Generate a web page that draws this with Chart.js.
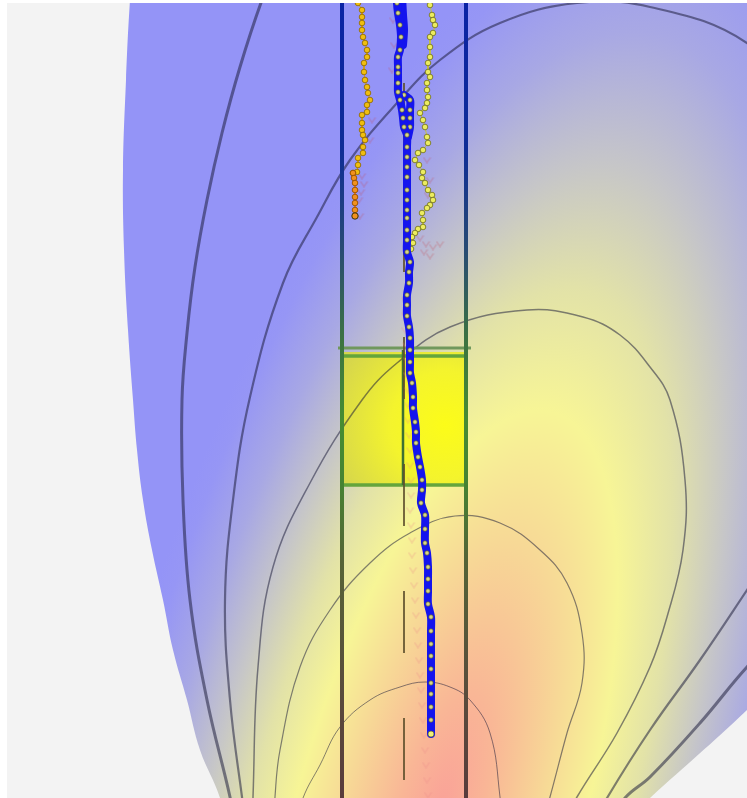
<!DOCTYPE html>
<html><head><meta charset="utf-8">
<script src="https://cdn.jsdelivr.net/npm/chart.js@4.4.1/dist/chart.umd.min.js"></script>
<style>
html,body{margin:0;padding:0;background:#ffffff;overflow:hidden;width:100%;height:100%;}
#wrap{position:fixed;left:7px;top:3px;right:0;bottom:0;background:#f3f3f3;}
#c{display:block;}
</style></head><body>
<div id="wrap"><canvas id="c"></canvas></div>
<script>
// ---------- DATA (x, y in sheet units) ----------
const heatRegion = [[232,850],[220,798],[200,750],[187,700],[173,650],[163,600],[152,550],[143,500],[137,450],[133,400],[128,330],[124,250],[123,170],[126,80],[130,0],[135,-60],[900,-60],[900,560],[747,710],[650,798],[594,850]];
const contourA = [[236,830],[230,797],[207,700],[190,600],[183,500],[182,400],[187,333],[195,267],[207,200],[222,133],[240,67],[262,0],[290,-70],[420,-170],[620,-180],[820,-80],[910,150],[900,420],[830,580],[747,667],[700,723],[650,777],[625,798],[605,830]];
const contourB = [[247,830],[242,797],[230,700],[225,600],[233,500],[250,397],[283,283],[317,217],[350,160],[397,103],[440,60],[500,23],[577,3],[650,7],[747,43],[820,120],[855,280],[835,440],[800,510],[747,590],[700,660],[650,730],[607,798],[590,830]];
const contourC = [[252,830],[253,797],[258,667],[273,567],[310,483],[362,400],[397,363],[450,327],[527,310],[583,317],[620,335],[650,367],[670,400],[685,480],[683,550],[667,617],[650,667],[617,733],[577,797],[560,830]];
const contourD = [[274,830],[275,797],[280,750],[300,667],[330,610],[370,563],[410,533],[455,516],[500,523],[540,550],[567,583],[582,633],[582,683],[567,733],[550,797],[540,830]];
const contourE = [[295,830],[303,798],[320,765],[340,727],[370,700],[400,687],[425,682],[450,687],[470,700],[490,733],[500,797],[502,830]];
const laneLeft = [[342,-10],[342,810]];
const laneRight = [[466,-10],[466,810]];
const centerLine = [[404,780],[404,-100]];
const boxArea = [[343,352],[466,352],[466,485],[343,485]];
const boxTopOuter = [[338,348],[471,348]];
const boxTopInner = [[343,356],[466,356]];
const boxBottom = [[343,485],[466,485]];
const boxDivider = [[403,350],[403,485]];
const bluePath = [[397,-5],[397,3],[398,13],[400,25],[401,37],[400,50],[398,57],[398,67],[398,73],[398,83],[398,92],[400,100],[402,110],[403,118],[404,127],[407,135],[407,147],[407,157],[407,167],[407,177],[407,190],[407,200],[407,210],[407,218],[407,230],[407,240],[407,252],[410,262],[409,272],[409,283],[407,295],[407,305],[407,316],[409,327],[410,338],[410,350],[410,362],[410,373],[412,383],[413,397],[413,408],[415,422],[416,432],[416,443],[418,457],[420,467],[422,480],[422,490],[421,503],[425,515],[425,529],[425,543],[427,553],[428,567],[428,579],[428,591],[428,604],[431,617],[431,631],[431,644],[431,656],[431,669],[431,683],[431,694],[431,707],[431,720],[431,734]];
const blueTop = [[402,-5],[403,15],[404,30],[403,45]];
const blueBranch = [[404,95],[410,100],[410,110],[410,118],[410,127],[408,137]];
const yellowPath = [[430,-5],[430,5],[432,15],[433,20],[435,25],[433,33],[430,37],[430,47],[430,57],[428,63],[428,72],[430,77],[427,83],[427,90],[428,97],[427,103],[425,108],[420,113],[423,120],[425,127],[427,137],[428,143],[423,150],[418,153],[415,160],[419,165],[423,172],[422,178],[425,183],[428,190],[432,195],[433,200],[430,205],[427,208],[422,213],[423,220],[423,227],[418,229],[415,233],[412,237],[413,243],[411,249]];
const goldPath = [[358,-5],[358,3],[362,10],[362,17],[362,23],[362,30],[363,37],[365,43],[367,50],[367,57],[364,63],[364,72],[365,80],[367,87],[368,93],[370,100],[367,105],[367,112],[362,115],[362,123],[362,130],[363,135],[365,140],[363,147],[363,153],[358,158],[358,165],[357,172],[353,173]];
const orangeTail = [[353,173],[354,178],[355,183],[355,190],[355,197],[355,203],[355,210],[355,216]];
const arrowTrail = [[405,300],[405,315],[405,330],[406,345],[407,360],[407,375],[408,390],[408,405],[408,420],[409,435],[410,450],[410,465],[411,480],[411,495],[410,510],[411,525],[412,540],[412,555],[413,570],[414,585],[415,600],[416,615],[417,630],[418,645],[419,660],[420,675],[421,690],[422,705],[423,720],[424,735],[425,750],[426,765],[427,780],[428,795]];
const redMarks = [[362,176],[364,184],[361,192],[359,200],[420,238],[426,244],[433,247],[440,244],[424,252],[430,256],[393,20],[394,45],[392,70],[427,160],[430,180],[428,195],[370,140],[372,120],[360,216]];

// ---------- STYLE SETTINGS ----------
const HEAT = { cx: 440, cy: 810, ax: 350, ay: 950, skew: 0.25 };
const HEAT_STOPS = [[0,'rgb(250,162,152)'],[0.12,'rgb(249,182,150)'],[0.28,'rgb(247,216,150)'],[0.42,'rgb(247,245,150)'],[0.55,'rgb(226,226,168)'],[0.68,'rgb(198,198,200)'],[0.82,'rgb(168,168,228)'],[0.95,'rgb(150,150,245)'],[1,'rgb(148,148,247)']];
const LANE_STOPS = [[0,'rgb(10,35,165)'],[150,'rgb(15,45,150)'],[250,'rgb(40,75,115)'],[340,'rgb(60,115,65)'],[420,'rgb(70,140,50)'],[485,'rgb(70,130,50)'],[560,'rgb(85,100,55)'],[700,'rgb(90,75,60)'],[798,'rgb(90,60,60)']];

const pts = a => a.map(([x, y]) => ({x, y}));

let heatCache = null;
function heatFill(chart) {
  const area = chart.chartArea;
  if (!area || !chart.scales.x) return 'rgb(148,148,247)';
  const key = chart.width + 'x' + chart.height;
  if (heatCache && heatCache.key === key) return heatCache.pat;
  const xs = chart.scales.x, ys = chart.scales.y;
  const off = document.createElement('canvas');
  off.width = chart.width; off.height = chart.height;
  const g = off.getContext('2d');
  const cx = xs.getPixelForValue(HEAT.cx), cy = ys.getPixelForValue(HEAT.cy);
  const ax = Math.abs(xs.getPixelForValue(HEAT.cx + HEAT.ax) - cx);
  const ay = Math.abs(ys.getPixelForValue(HEAT.cy - HEAT.ay) - cy);
  g.setTransform(ax, 0, -HEAT.skew * ay, ay, cx, cy);
  const grad = g.createRadialGradient(0, 0, 0, 0, 0, 1);
  HEAT_STOPS.forEach(([t, c]) => grad.addColorStop(t, c));
  g.fillStyle = grad;
  g.fillRect(-20, -20, 40, 40);
  const pat = chart.ctx.createPattern(off, 'no-repeat');
  heatCache = {key, pat};
  return pat;
}
function laneColor(ctx) {
  const chart = ctx.chart;
  if (!chart.chartArea || !chart.scales.y) return 'rgb(20,45,150)';
  const ys = chart.scales.y;
  const y0 = ys.getPixelForValue(0), y1 = ys.getPixelForValue(798);
  const gr = chart.ctx.createLinearGradient(0, y0, 0, y1);
  LANE_STOPS.forEach(([v, c]) => gr.addColorStop(Math.min(1, Math.max(0, v / 798)), c));
  return gr;
}
function boxColor(ctx) {
  const chart = ctx.chart;
  if (!chart.chartArea || !chart.scales.x) return 'rgb(240,240,50)';
  const xs = chart.scales.x, ys = chart.scales.y;
  const cx = xs.getPixelForValue(445), cy = ys.getPixelForValue(425);
  const r = Math.abs(xs.getPixelForValue(565) - cx);
  const gr = chart.ctx.createRadialGradient(cx, cy, 0, cx, cy, r);
  gr.addColorStop(0, 'rgb(252,252,25)');
  gr.addColorStop(0.45, 'rgb(244,244,45)');
  gr.addColorStop(1, 'rgb(212,212,78)');
  return gr;
}
function chevron(color) {
  const c = document.createElement('canvas');
  c.width = 9; c.height = 7;
  const g = c.getContext('2d');
  g.strokeStyle = color; g.lineWidth = 1.3;
  g.beginPath(); g.moveTo(1, 1); g.lineTo(4.5, 6); g.lineTo(8, 1); g.stroke();
  return c;
}

const contour = (data, w, order) => ({data: pts(data), borderColor: 'rgba(25,25,55,0.52)', borderWidth: w, tension: 0.4, pointRadius: 0, fill: false, order});
const seg = (data, color, w, order, extra) => Object.assign({data: pts(data), borderColor: color, borderWidth: w, pointRadius: 0, tension: 0, fill: false, order}, extra || {});

const datasets = [
  {data: pts(heatRegion), backgroundColor: ctx => heatFill(ctx.chart), borderWidth: 0, pointRadius: 0, tension: 0.4, fill: 'shape', order: 100},
  {data: pts(boxArea), backgroundColor: boxColor, borderWidth: 0, pointRadius: 0, tension: 0, fill: 'shape', order: 95},
  contour(contourA, 3, 90), contour(contourB, 2.2, 90), contour(contourC, 1.5, 90), contour(contourD, 1.2, 90), contour(contourE, 1, 90),
  seg(boxTopOuter, 'rgb(112,152,92)', 3, 80),
  seg(boxTopInner, 'rgb(100,165,60)', 3.5, 80),
  seg(boxBottom, 'rgb(100,165,60)', 3.5, 80),
  seg(boxDivider, 'rgb(62,112,52)', 2.5, 78),
  seg(laneLeft, laneColor, 4, 75),
  seg(laneRight, laneColor, 4, 75),
  seg(centerLine, 'rgba(95,80,45,0.85)', 2, 74, {borderDash: [62, 65]}),
  {data: pts(arrowTrail), showLine: false, pointStyle: chevron('rgba(235,140,140,0.35)'), pointRadius: 3, order: 70},
  {data: pts(redMarks), showLine: false, pointStyle: chevron('rgba(200,70,80,0.3)'), pointRadius: 3, order: 69},
  {data: pts(goldPath), borderColor: 'rgba(215,160,0,0.9)', borderWidth: 1, tension: 0, pointRadius: 2.8, pointBackgroundColor: 'rgb(240,190,15)', pointBorderColor: 'rgb(140,100,0)', pointBorderWidth: 0.8, fill: false, order: 50},
  {data: pts(orangeTail), borderColor: 'rgba(230,120,20,0.9)', borderWidth: 1, tension: 0, pointRadius: [2.8,2.8,2.8,2.8,2.8,2.8,2.8,3.2], pointBackgroundColor: 'rgb(242,145,30)', pointBorderColor: ['rgb(150,80,0)','rgb(150,80,0)','rgb(150,80,0)','rgb(150,80,0)','rgb(150,80,0)','rgb(150,80,0)','rgb(150,80,0)','rgb(40,40,0)'], pointBorderWidth: 0.9, fill: false, order: 49},
  {data: pts(yellowPath), borderColor: 'rgba(200,200,40,0.9)', borderWidth: 1, tension: 0, pointRadius: 2.8, pointBackgroundColor: 'rgb(236,236,95)', pointBorderColor: 'rgb(110,110,25)', pointBorderWidth: 0.8, fill: false, order: 48},
  {data: pts(blueTop), borderColor: 'rgb(20,20,238)', borderWidth: 8, tension: 0.3, pointRadius: 0, borderCapStyle: 'round', borderJoinStyle: 'round', fill: false, order: 41},
  {data: pts(blueBranch), borderColor: 'rgb(20,20,238)', borderWidth: 8, tension: 0.3, pointRadius: 2.2, pointBackgroundColor: 'rgb(214,214,135)', pointBorderColor: 'rgb(95,95,45)', pointBorderWidth: 0.7, borderCapStyle: 'round', borderJoinStyle: 'round', fill: false, order: 40},
  {data: pts(bluePath), borderColor: 'rgb(20,20,238)', borderWidth: 8, tension: 0.3, pointRadius: bluePath.map((p, i) => i === bluePath.length - 1 ? 3 : 2.2), pointBackgroundColor: bluePath.map((p, i) => i === bluePath.length - 1 ? 'rgb(240,240,120)' : 'rgb(214,214,135)'), pointBorderColor: 'rgb(95,95,45)', pointBorderWidth: 0.7, borderCapStyle: 'round', borderJoinStyle: 'round', fill: false, order: 39}
];

new Chart(document.getElementById('c'), {
  type: 'line',
  data: {datasets},
  options: {
    responsive: true,
    maintainAspectRatio: false,
    animation: false,
    devicePixelRatio: 1,
    events: [],
    layout: {padding: 0, autoPadding: false},
    elements: {line: {capBezierPoints: false}},
    scales: {
      x: {type: 'linear', min: 7, max: 747, display: false},
      y: {type: 'linear', min: 3, max: 798, reverse: true, display: false}
    },
    plugins: {legend: {display: false}, tooltip: {enabled: false}}
  }
});
</script>
</body></html>
